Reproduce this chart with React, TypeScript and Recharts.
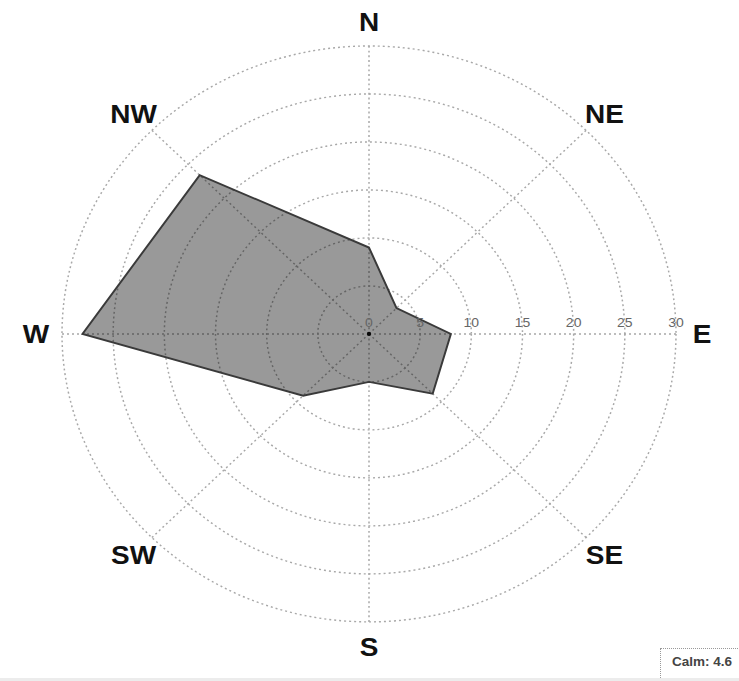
import { RadarChart, Radar, PolarGrid, PolarAngleAxis, PolarRadiusAxis } from 'recharts';

const directions = ['N', 'NE', 'E', 'SE', 'S', 'SW', 'W', 'NW'];
const frequency = [9, 3.8, 8, 8.8, 5, 9.1, 28, 23.4];
const radiusTicks = [0, 5, 10, 15, 20, 25, 30];
const calmLabel = 'Calm: 4.6';

const data = directions.map((dir, i) => ({ dir, value: frequency[i] }));

// the rose is drawn round, then squeezed a little vertically
const SQUASH = 0.938;
const W = 739;
const H = Math.round(681 / SQUASH);
const CX = 369;
const CY = 356;
const R = 307;
const LABEL_R = R + 26;

const font = '"Liberation Sans", Arial, sans-serif';

const DirectionTick = (props: any) => {
  const angle = (props.payload.coordinate * Math.PI) / 180;
  const x = CX + LABEL_R * Math.cos(angle);
  const y = CY - LABEL_R * Math.sin(angle);
  return (
    <text
      x={x}
      y={y}
      dy="0.36em"
      textAnchor="middle"
      fontFamily={font}
      fontWeight="bold"
      fontSize={28}
      fill="#111"
    >
      {props.payload.value}
    </text>
  );
};

const RingTick = (props: any) => (
  <text x={props.x} y={props.y - 7} textAnchor="middle" fontFamily={font} fontSize={14} fill="#666">
    {String(props.payload.value)}
  </text>
);

const App = () => (
  <div style={{ position: 'absolute', left: 0, top: 0, width: W, height: 681, overflow: 'hidden', background: '#fff' }}>
    <div style={{ transform: `scale(1, ${SQUASH})`, transformOrigin: '0 0' }}>
      <RadarChart
        width={W}
        height={H}
        data={data}
        cx={CX}
        cy={CY}
        outerRadius={R}
        startAngle={90}
        endAngle={-270}
        margin={{ top: 0, right: 0, bottom: 0, left: 0 }}
      >
        <PolarGrid gridType="circle" stroke="#a8a8a8" strokeWidth={1.5} strokeDasharray="2 3" />
        <PolarAngleAxis dataKey="dir" tick={DirectionTick} tickLine={false} axisLine={false} />
        <PolarRadiusAxis
          angle={0}
          type="number"
          domain={[0, 30]}
          ticks={radiusTicks}
          tick={RingTick}
          tickLine={false}
          stroke="none"
        />
        <Radar
          dataKey="value"
          fill="#000"
          fillOpacity={0.4}
          stroke="#3a3a3a"
          strokeWidth={2}
          isAnimationActive={false}
        />
        <circle cx={CX} cy={CY} r={2.2} fill="#111" />
      </RadarChart>
    </div>
    <div
      style={{
        position: 'absolute',
        left: 660,
        top: 648,
        width: 120,
        height: 30,
        borderTop: '1px dotted #999',
        borderLeft: '1px dotted #999',
        boxSizing: 'border-box',
        paddingLeft: 11,
        paddingTop: 5,
        fontFamily: font,
        fontWeight: 'bold',
        fontSize: 13.5,
        color: '#444',
        whiteSpace: 'nowrap',
      }}
    >
      {calmLabel}
    </div>
    <div style={{ position: 'absolute', left: 0, top: 678, width: W, height: 3, background: '#ececec' }} />
  </div>
);

export default App;
